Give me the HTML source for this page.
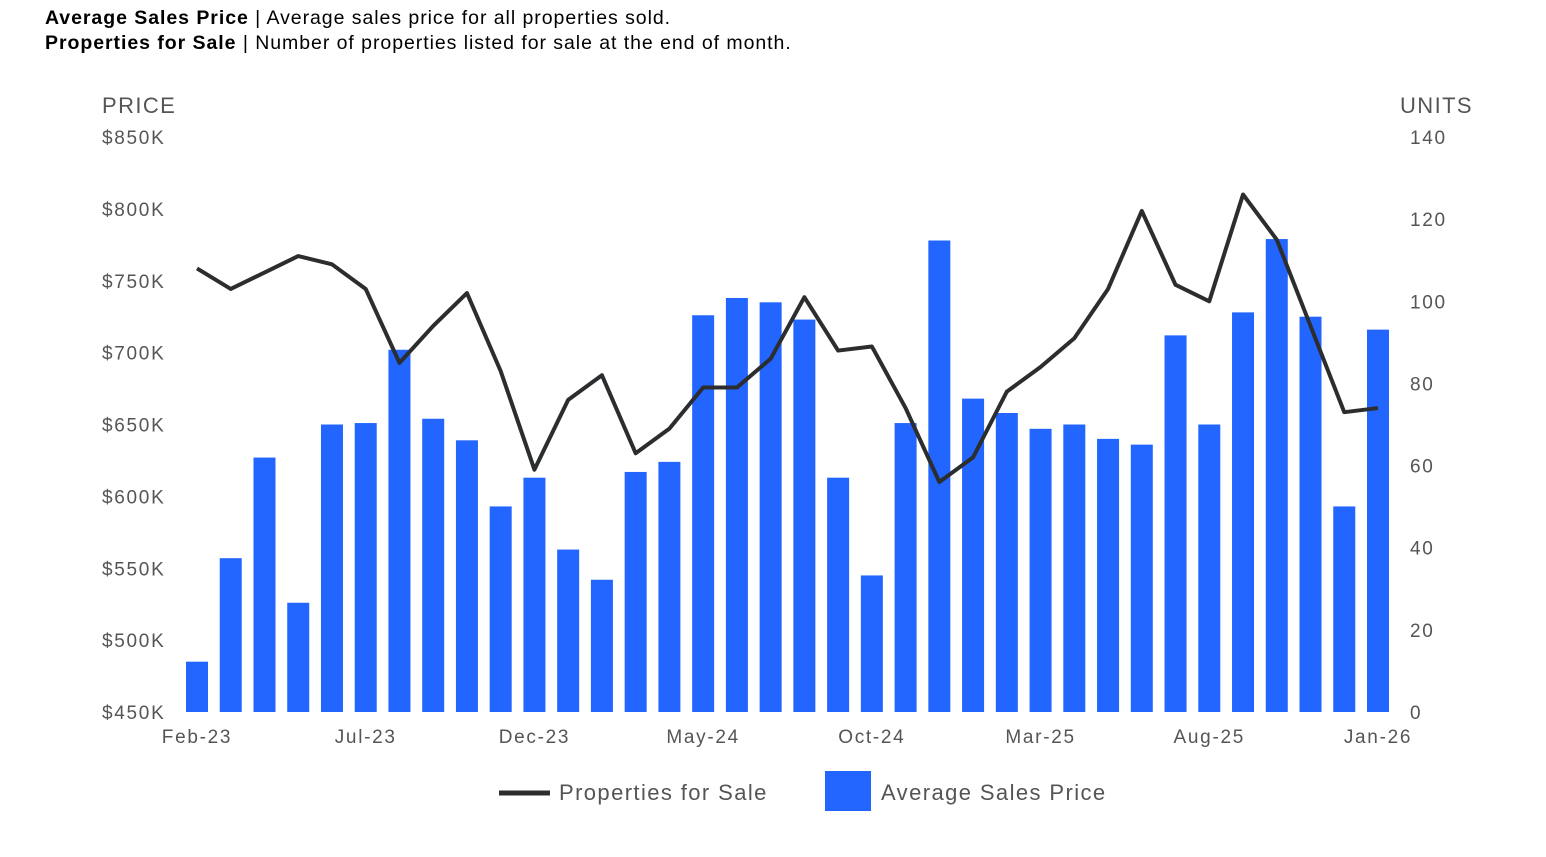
<!DOCTYPE html>
<html><head><meta charset="utf-8"><style>
body{margin:0;background:#fff;font-family:"Liberation Sans",sans-serif;}
.hdr{position:absolute;left:45px;font-size:19.5px;color:#000;letter-spacing:0.95px;}
</style></head><body>
<div class="hdr" style="top:7px"><b>Average Sales Price</b> | Average sales price for all properties sold.</div>
<div class="hdr" style="top:32px"><b>Properties for Sale</b> | Number of properties listed for sale at the end of month.</div>
<svg id="c" width="1546" height="857" style="position:absolute;left:0;top:0"></svg>
<script>
const months=["Feb-23","Mar-23","Apr-23","May-23","Jun-23","Jul-23","Aug-23","Sep-23","Oct-23","Nov-23","Dec-23","Jan-24","Feb-24","Mar-24","Apr-24","May-24","Jun-24","Jul-24","Aug-24","Sep-24","Oct-24","Nov-24","Dec-24","Jan-25","Feb-25","Mar-25","Apr-25","May-25","Jun-25","Jul-25","Aug-25","Sep-25","Oct-25","Nov-25","Dec-25","Jan-26"];
const priceK=[485,557,627,526,650,651,702,654,639,593,613,563,542,617,624,726,738,735,723,613,545,651,778,668,658,647,650,640,636,712,650,728,779,725,593,716];
const units=[108,103,107,111,109,103,85,94,102,83,59,76,82,63,69,79,79,86,101,88,89,74,56,62,78,84,91,103,122,104,100,126,115,94,73,74];
const leftTicks=[450,500,550,600,650,700,750,800,850];
const rightTicks=[0,20,40,60,80,100,120,140];
const ns="http://www.w3.org/2000/svg",svg=document.getElementById('c');
const x0=197,x1=1378,yB=712,yT=137;
const xs=i=>x0+(x1-x0)*i/(months.length-1);
const yL=v=>yB-(v-450)/400*(yB-yT);
const yR=v=>yB-v/140*(yB-yT);
function mk(t,a,txt){const e=document.createElementNS(ns,t);for(const k in a)e.setAttribute(k,a[k]);if(txt!=null)e.textContent=txt;svg.appendChild(e);return e;}
const tf='font-family:"Liberation Sans",sans-serif;font-size:19px;fill:#555;letter-spacing:1.7px';
const lf='font-family:"Liberation Sans",sans-serif;font-size:22px;fill:#555;letter-spacing:1.4px';
let e=mk('text',{x:102,y:113,style:lf},'PRICE');

e=mk('text',{x:1400,y:113,style:lf},'UNITS');

leftTicks.forEach(v=>{const t=mk('text',{x:102,y:yL(v)+7,style:tf},'$'+v+'K');
});
rightTicks.forEach(v=>{const t=mk('text',{x:1410,y:yR(v)+7,style:tf},String(v));
});
priceK.forEach((v,i)=>{const b=mk('rect',{x:xs(i)-11,y:yL(v),width:22,height:yB-yL(v),fill:'#2266ff'});
});
const p=mk('polyline',{points:units.map((v,i)=>xs(i)+','+yR(v)).join(' '),fill:'none',stroke:'#2b2d2f','stroke-width':4,'stroke-linejoin':'round'});

months.forEach((m,i)=>{if(i%5)return;const t=mk('text',{x:xs(i),y:743,'text-anchor':'middle',style:tf},m);
});
e=mk('line',{x1:499,y1:793,x2:550,y2:793,stroke:'#2b2d2f','stroke-width':5});

e=mk('text',{x:559,y:800,style:lf},'Properties for Sale');

e=mk('rect',{x:825,y:771,width:46,height:40,fill:'#2266ff'});

e=mk('text',{x:881,y:800,style:lf},'Average Sales Price');

</script>
</body></html>
